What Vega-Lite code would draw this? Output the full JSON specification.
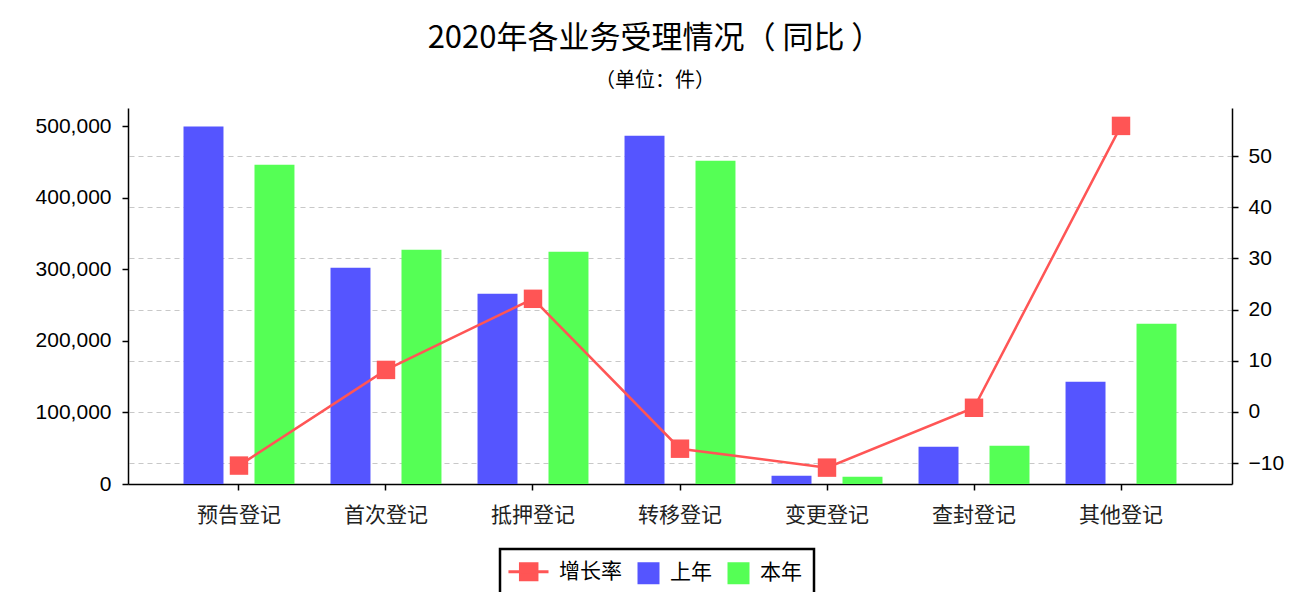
{
  "$schema": "https://vega.github.io/schema/vega-lite/v6.json",
  "width": 1104,
  "height": 376,
  "autosize": "none",
  "padding": {"left": 128, "top": 108, "right": 63, "bottom": 108},
  "background": "white",
  "config": {"view": {"stroke": null}},
  "title": {
    "text": "2020年各业务受理情况（ 同比 ）",
    "subtitle": "（单位：件）",
    "anchor": "middle",
    "dx": -25,
    "offset": 16,
    "font": "Noto Sans CJK SC",
    "fontSize": 31,
    "fontWeight": "normal",
    "color": "#000",
    "subtitleFont": "Noto Sans CJK SC",
    "subtitleFontSize": 20,
    "subtitleColor": "#000",
    "subtitlePadding": 16
  },
  "datasets": {
    "bars": [
      {"category": "预告登记", "series": "上年", "value": 500000},
      {"category": "预告登记", "series": "本年", "value": 446500},
      {"category": "首次登记", "series": "上年", "value": 302400},
      {"category": "首次登记", "series": "本年", "value": 327600},
      {"category": "抵押登记", "series": "上年", "value": 266100},
      {"category": "抵押登记", "series": "本年", "value": 324800},
      {"category": "转移登记", "series": "上年", "value": 487000},
      {"category": "转移登记", "series": "本年", "value": 452000},
      {"category": "变更登记", "series": "上年", "value": 11600},
      {"category": "变更登记", "series": "本年", "value": 10200},
      {"category": "查封登记", "series": "上年", "value": 52200},
      {"category": "查封登记", "series": "本年", "value": 53600},
      {"category": "其他登记", "series": "上年", "value": 143000},
      {"category": "其他登记", "series": "本年", "value": 224100}
    ],
    "rate": [
      {"category": "预告登记", "series": "增长率", "rate": -10.5},
      {"category": "首次登记", "series": "增长率", "rate": 8.2},
      {"category": "抵押登记", "series": "增长率", "rate": 22.1},
      {"category": "转移登记", "series": "增长率", "rate": -7.2},
      {"category": "变更登记", "series": "增长率", "rate": -10.9},
      {"category": "查封登记", "series": "增长率", "rate": 0.8},
      {"category": "其他登记", "series": "增长率", "rate": 55.9}
    ]
  },
  "layer": [
    {
      "data": {"name": "bars"},
      "mark": {"type": "bar"},
      "encoding": {
        "x": {
          "field": "category", "type": "nominal",
          "sort": ["预告登记", "首次登记", "抵押登记", "转移登记", "变更登记", "查封登记", "其他登记"],
          "scale": {"paddingInner": 0, "paddingOuter": 0.255},
          "axis": {"title": null, "labelAngle": 0, "labelFont": "Noto Sans CJK SC", "labelFontSize": 21, "labelColor": "#222", "labelPadding": 14, "tickSize": 6, "tickColor": "#000", "tickWidth": 1.5, "domainColor": "#000", "domainWidth": 1.5, "grid": false}
        },
        "xOffset": {"field": "series", "type": "nominal", "sort": ["上年", "本年"], "scale": {"paddingInner": 0.437, "paddingOuter": 0.254}},
        "y": {
          "field": "value", "type": "quantitative",
          "scale": {"domain": [0, 525700], "nice": false, "zero": false},
          "axis": {"title": null, "orient": "left", "values": [0, 100000, 200000, 300000, 400000, 500000], "format": ",.0f", "labelFont": "Liberation Sans", "labelFontSize": 21, "labelColor": "#000", "labelPadding": 11, "tickSize": 6, "tickColor": "#000", "tickWidth": 1.5, "domainColor": "#000", "domainWidth": 1.5, "grid": false}
        },
        "color": {
          "field": "series", "type": "nominal",
          "scale": {"domain": ["增长率", "上年", "本年"], "range": ["#ff5555", "#5555ff", "#55ff55"]},
          "legend": {
            "orient": "none", "legendX": 372, "legendY": 441, "direction": "horizontal",
            "title": " ", "titleOrient": "left", "titleFontSize": 1, "titlePadding": 15,
            "strokeColor": "#000", "padding": 12,
            "labelFont": "Noto Sans CJK SC", "labelFontSize": 21, "labelColor": "#000",
            "symbolSize": 484, "labelOffset": 11, "columnPadding": 15, "symbolType": "square",
            "encode": {
              "legend": {"update": {"strokeWidth": {"value": 2.5}}},
              "symbols": {"update": {
                "shape": {"signal": "datum.value === '增长率' ? 'M-2.64,0H1M-1.55,-0.73H-0.05V0.73H-1.55Z' : 'square'"},
                "fill": {"signal": "scale('color', datum.value)"},
                "stroke": {"signal": "datum.value === '增长率' ? '#ff5555' : 'transparent'"},
                "strokeWidth": {"signal": "datum.value === '增长率' ? 3 : 0"},
                "opacity": {"value": 1}
              }}
            }
          }
        }
      }
    },
    {
      "data": {"name": "rate"},
      "encoding": {
        "x": {
          "field": "category", "type": "nominal",
          "sort": ["预告登记", "首次登记", "抵押登记", "转移登记", "变更登记", "查封登记", "其他登记"],
          "scale": {"paddingInner": 0, "paddingOuter": 0.255},
          "axis": {"title": null, "labelAngle": 0, "labelFont": "Noto Sans CJK SC", "labelFontSize": 21, "labelColor": "#222", "labelPadding": 14, "tickSize": 6, "tickColor": "#000", "tickWidth": 1.5, "domainColor": "#000", "domainWidth": 1.5, "grid": false}
        },
        "y": {
          "field": "rate", "type": "quantitative",
          "scale": {"domain": [-14.1, 59.4], "nice": false, "zero": false},
          "axis": {"title": null, "orient": "right", "values": [-10, 0, 10, 20, 30, 40, 50], "labelFont": "Liberation Sans", "labelFontSize": 21, "labelColor": "#000", "labelPadding": 10, "tickSize": 6, "tickColor": "#000", "tickWidth": 1.5, "domainColor": "#000", "domainWidth": 1.5, "grid": true, "gridDash": [5, 4], "gridColor": "#c8c8c8", "gridWidth": 1.2}
        },
        "color": {"field": "series", "type": "nominal"}
      },
      "layer": [
        {"mark": {"type": "line", "strokeWidth": 2.5}},
        {"mark": {"type": "point", "shape": "square", "size": 340, "filled": true, "opacity": 1}}
      ]
    }
  ],
  "resolve": {"scale": {"y": "independent"}}
}
